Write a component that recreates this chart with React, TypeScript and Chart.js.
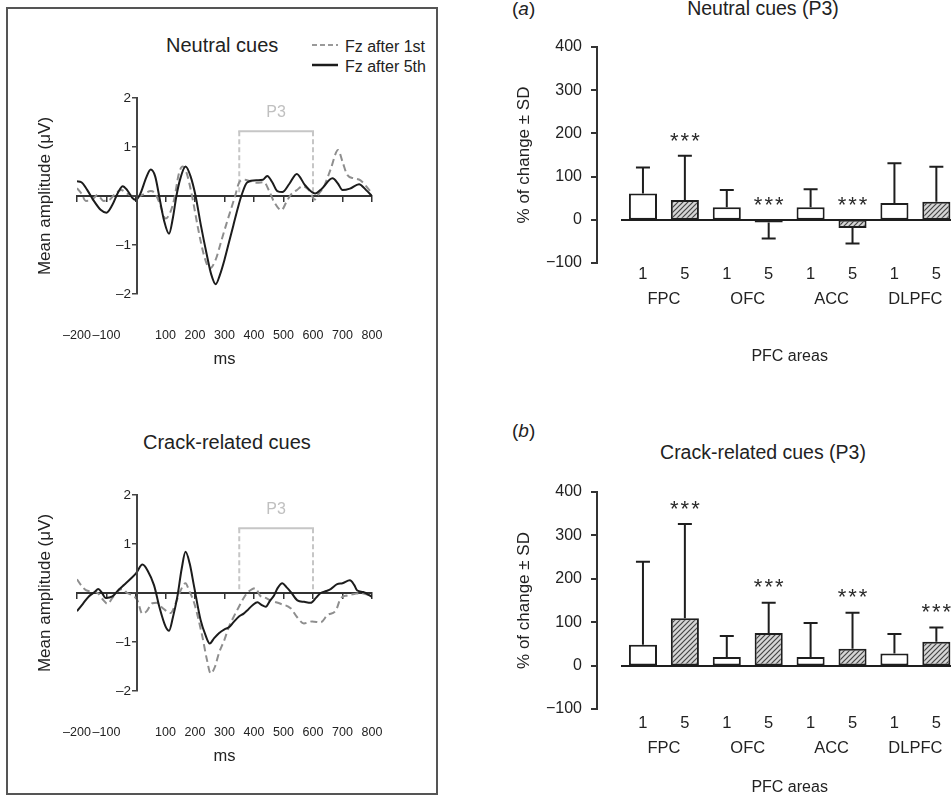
import React, { useEffect, useRef } from 'react';
import { Chart, registerables } from 'chart.js';

Chart.register(...registerables);

const FONT = '"Liberation Sans", Arial, Helvetica, sans-serif';
const INK = '#222222';

// ---------- ERP waveforms: Neutral cues ----------
const neutralTime1 = [-200, -185, -170, -150, -130, -110, -90, -70, -50, -30, -10, 10, 30, 50, 65, 80, 100, 115, 130, 145, 158, 170, 190, 210, 230, 250, 270, 290, 310, 336, 350, 366, 389, 410, 434, 450, 468, 493, 510, 524, 545, 564, 586, 606, 620, 637, 660, 685, 700, 716, 739, 761, 780, 800];
const neutralAmp1 = [0.16, 0.05, -0.1, -0.08, 0.02, -0.1, -0.08, 0.05, 0.12, 0.05, 0.0, 0.0, 0.05, 0.1, 0.05, -0.15, -0.46, -0.35, -0.05, 0.45, 0.6, 0.5, 0.0, -0.65, -1.2, -1.48, -1.3, -0.9, -0.5, 0.0, 0.28, 0.33, 0.3, 0.27, 0.28, 0.12, -0.12, -0.29, -0.12, 0.02, 0.12, 0.2, 0.12, -0.07, 0.05, 0.19, 0.55, 0.94, 0.7, 0.43, 0.36, 0.32, 0.2, 0.05];
const neutralTime5 = [-200, -185, -165, -145, -120, -100, -80, -60, -45, -30, -12, 0, 15, 35, 50, 65, 80, 95, 112, 125, 137, 150, 168, 185, 202, 220, 240, 255, 270, 285, 300, 315, 330, 345, 357, 377, 411, 430, 445, 462, 479, 496, 520, 545, 573, 607, 630, 666, 685, 700, 725, 756, 780, 800];
const neutralAmp5 = [0.3, 0.28, 0.12, -0.08, -0.28, -0.34, -0.18, 0.08, 0.2, 0.12, -0.04, -0.08, 0.05, 0.38, 0.54, 0.4, -0.05, -0.5, -0.77, -0.45, 0.0, 0.35, 0.6, 0.4, 0.0, -0.6, -1.2, -1.6, -1.8, -1.6, -1.3, -0.95, -0.6, -0.25, 0.0, 0.28, 0.32, 0.33, 0.41, 0.28, 0.1, 0.08, 0.25, 0.45, 0.22, 0.05, 0.15, 0.36, 0.25, 0.12, 0.15, 0.24, 0.12, 0.0];

// ---------- ERP waveforms: Crack-related cues ----------
const crackTime1 = [-200, -185, -170, -150, -130, -110, -97, -80, -65, -46, -30, -12, 5, 21, 35, 55, 70, 89, 117, 135, 155, 168, 180, 197, 225, 240, 253, 268, 281, 300, 315, 330, 349, 365, 377, 394, 405, 420, 440, 456, 490, 524, 547, 569, 597, 626, 649, 677, 694, 716, 740, 761, 795];
const crackAmp1 = [0.28, 0.15, 0.06, 0.03, 0.0, -0.15, -0.22, -0.1, 0.02, 0.08, 0.0, -0.05, -0.15, -0.42, -0.38, -0.21, -0.2, -0.3, -0.41, -0.2, 0.1, 0.2, 0.05, -0.2, -0.89, -1.35, -1.64, -1.5, -1.23, -0.95, -0.69, -0.5, -0.28, -0.1, 0.0, 0.08, 0.1, -0.05, -0.1, -0.15, -0.22, -0.31, -0.5, -0.62, -0.58, -0.6, -0.45, -0.36, -0.11, -0.05, -0.02, 0.0, -0.05];
const crackTime5 = [-200, -180, -160, -140, -128, -115, -103, -80, -58, -40, -20, 0, 22, 40, 61, 80, 100, 112, 125, 140, 155, 168, 182, 197, 219, 235, 250, 265, 281, 300, 315, 330, 349, 365, 378, 395, 412, 425, 440, 455, 468, 480, 496, 510, 525, 547, 570, 592, 610, 626, 645, 660, 682, 700, 725, 740, 750, 770, 800];
const crackAmp5 = [-0.37, -0.22, -0.07, 0.02, 0.08, 0.0, -0.1, -0.07, 0.07, 0.17, 0.28, 0.4, 0.58, 0.45, 0.16, -0.3, -0.68, -0.77, -0.5, -0.08, 0.5, 0.84, 0.6, 0.13, -0.55, -0.85, -1.03, -0.92, -0.82, -0.74, -0.7, -0.6, -0.48, -0.42, -0.35, -0.25, -0.19, -0.24, -0.28, -0.15, -0.05, 0.1, 0.2, 0.12, 0.02, -0.15, -0.18, -0.2, -0.1, 0.0, 0.04, 0.08, 0.18, 0.2, 0.26, 0.16, 0.05, 0.02, -0.08];

const erpTimeRange = [-200, 800];
const erpAmpRange = [-2, 2];
const p3Window = [350, 600];
const p3BracketLevel = 1.32;
const p3LabelLevel = 1.7;

// ---------- PFC bar charts ----------
const sessions = ['1', '5', '1', '5', '1', '5', '1', '5'];
const areas = ['FPC', 'OFC', 'ACC', 'DLPFC'];
const neutralMeans = [61, 46, 29, -6, 29, -19, 39, 42];
const neutralSD = [60, 102, 40, 37, 42, 36, 92, 81];
const neutralSig = [false, true, false, true, false, true, false, false];
const crackMeans = [48, 109, 20, 75, 20, 39, 28, 55];
const crackSD = [191, 217, 48, 70, 78, 83, 45, 33];
const crackSig = [false, true, false, true, false, true, false, true];
const pctRange = [-100, 400];

const fmt = (v: number) => (v < 0 ? '\u2212' + Math.abs(v) : String(v));
const fmtDash = (v: number) => (v < 0 ? '\u2013' + Math.abs(v) : String(v));

const BASE_OPTS = {
  animation: false,
  responsive: false,
  devicePixelRatio: 1,
  events: [],
};
const NO_PLUGINS = { legend: { display: false }, tooltip: { enabled: false }, title: { display: false } };

// A stand-alone vertical axis (used where the value axis sits away from the plot's left edge)
type AxisProps = {
  left: number; top: number; width: number; height: number;
  padTop: number; padBottom: number; axisWidth: number;
  min: number; max: number; step: number; dash: boolean;
  fontSize: number; tickLength: number; tickPad: number; hideZero: boolean; color: string; lineWidth: number;
};
function AxisOverlay(p: AxisProps) {
  const ref = useRef<HTMLCanvasElement | null>(null);
  useEffect(() => {
    const canvas = ref.current;
    if (!canvas) return;
    const f = p.dash ? fmtDash : fmt;
    const chart = new Chart(canvas, {
      type: 'line',
      data: { datasets: [] },
      options: {
        ...BASE_OPTS,
        layout: { padding: { left: 0, right: 0, top: p.padTop, bottom: p.padBottom } },
        plugins: NO_PLUGINS,
        scales: {
          x: { type: 'linear', display: false },
          y: {
            type: 'linear',
            position: 'left',
            min: p.min,
            max: p.max,
            ticks: {
              stepSize: p.step,
              padding: p.tickPad,
              color: INK,
              font: { family: FONT, size: p.fontSize },
              callback: (v: any) => (p.hideZero && Number(v) === 0 ? '' : f(Number(v))),
            },
            grid: { drawOnChartArea: false, drawTicks: true, tickLength: p.tickLength, color: p.color, lineWidth: p.lineWidth },
            border: { display: true, color: p.color, width: 2 },
            afterFit: (s: any) => {
              s.width = p.axisWidth;
            },
          },
        },
      } as any,
    });
    return () => chart.destroy();
  }, []);
  return <canvas ref={ref} width={p.width} height={p.height} style={{ position: 'absolute', left: p.left, top: p.top, width: p.width, height: p.height }} />;
}

type ErpProps = { top: number; t1: number[]; v1: number[]; t5: number[]; v5: number[] };

function ErpChart({ top, t1, v1, t5, v5 }: ErpProps) {
  const ref = useRef<HTMLCanvasElement | null>(null);
  useEffect(() => {
    const canvas = ref.current;
    if (!canvas) return;
    const p3Plugin = {
      id: 'p3',
      beforeDatasetsDraw(chart: any) {
        const { ctx } = chart;
        const x = chart.scales.x;
        const y = chart.scales.y;
        const x0 = x.getPixelForValue(p3Window[0]);
        const x1 = x.getPixelForValue(p3Window[1]);
        const yTop = y.getPixelForValue(p3BracketLevel);
        const yBot = y.getPixelForValue(0.05);
        ctx.save();
        ctx.strokeStyle = '#c6c6c6';
        ctx.lineWidth = 2;
        ctx.setLineDash([5, 3]);
        ctx.beginPath();
        ctx.moveTo(x0, yTop);
        ctx.lineTo(x0, yBot);
        ctx.moveTo(x1, yTop);
        ctx.lineTo(x1, yBot);
        ctx.stroke();
        ctx.setLineDash([]);
        ctx.beginPath();
        ctx.moveTo(x0 - 1, yTop);
        ctx.lineTo(x1 + 1, yTop);
        ctx.stroke();
        ctx.fillStyle = '#c0c0c0';
        ctx.font = `16px ${FONT}`;
        ctx.textAlign = 'center';
        ctx.textBaseline = 'middle';
        ctx.fillText('P3', (x0 + x1) / 2, y.getPixelForValue(p3LabelLevel));
        ctx.restore();
      },
    };
    const chart = new Chart(canvas, {
      type: 'line',
      data: {
        datasets: [
          {
            label: 'Fz after 5th',
            data: t5.map((t, i) => ({ x: t, y: v5[i] })),
            borderColor: '#1c1c1c',
            borderWidth: 2,
            pointRadius: 0,
            cubicInterpolationMode: 'monotone',
            xAxisID: 'x',
            yAxisID: 'y',
          },
          {
            label: 'Fz after 1st',
            data: t1.map((t, i) => ({ x: t, y: v1[i] })),
            borderColor: '#8e8e8e',
            borderWidth: 2,
            borderDash: [7, 4],
            pointRadius: 0,
            cubicInterpolationMode: 'monotone',
            xAxisID: 'x',
            yAxisID: 'y',
          },
        ],
      },
      options: {
        ...BASE_OPTS,
        layout: { padding: { left: 0, right: 18, top: 18, bottom: 0 } },
        plugins: NO_PLUGINS,
        scales: {
          x: {
            type: 'linear',
            axis: 'x',
            position: { y: 0 },
            min: erpTimeRange[0],
            max: erpTimeRange[1],
            ticks: { display: false, stepSize: 100 },
            grid: { drawOnChartArea: false, drawTicks: true, tickLength: 5, color: '#333', lineWidth: 1.5 },
            border: { display: true, color: '#333', width: 2 },
          },
          y: {
            type: 'linear',
            axis: 'y',
            position: 'left',
            display: false,
            min: erpAmpRange[0],
            max: erpAmpRange[1],
          },
          xl: {
            type: 'linear',
            axis: 'x',
            position: 'bottom',
            min: erpTimeRange[0],
            max: erpTimeRange[1],
            ticks: {
              stepSize: 100,
              autoSkip: false,
              maxRotation: 0,
              padding: 0,
              color: INK,
              font: { family: FONT, size: 12.5 },
              callback: (v: any) => (Number(v) === 0 ? '' : fmtDash(Number(v))),
            },
            grid: { display: true, drawOnChartArea: false, drawTicks: true, tickLength: 34, color: 'rgba(0,0,0,0)' },
            border: { display: false },
            title: { display: true, text: 'ms', color: INK, font: { family: FONT, size: 16.5 }, padding: { top: 0, bottom: 11 } },
            afterFit: (s: any) => {
              s.height = 86;
            },
          },
          yt: {
            type: 'linear',
            axis: 'y',
            position: 'left',
            ticks: { display: false },
            grid: { display: false, drawTicks: false },
            border: { display: false },
            title: { display: true, text: 'Mean amplitude (\u03bcV)', color: INK, font: { family: FONT, size: 17 }, padding: { top: 25, bottom: 0 } },
            afterFit: (s: any) => {
              s.width = 67;
            },
          },
        },
      } as any,
      plugins: [p3Plugin],
    });
    return () => chart.destroy();
  }, []);
  return (
    <>
      <canvas ref={ref} width={380} height={300} style={{ position: 'absolute', left: 10, top, width: 380, height: 300 }} />
      <AxisOverlay
        left={60} top={top} width={90} height={300}
        padTop={18} padBottom={86} axisWidth={77}
        min={erpAmpRange[0]} max={erpAmpRange[1]} step={1} dash
        fontSize={13.5} tickLength={5} tickPad={1} hideZero color="#444" lineWidth={1.5}
      />
    </>
  );
}

type BarProps = {
  top: number;
  means: number[];
  sds: number[];
  sig: boolean[];
  padTop: number;
  xH: number;
  xPad: number;
  xgH: number;
  xgPad: number;
  titlePad: number;
};

function BarChart({ top, means, sds, sig, padTop, xH, xPad, xgH, xgPad, titlePad }: BarProps) {
  const ref = useRef<HTMLCanvasElement | null>(null);
  useEffect(() => {
    const canvas = ref.current;
    if (!canvas) return;
    const ctx0 = canvas.getContext('2d')!;
    const tile = document.createElement('canvas');
    tile.width = 5;
    tile.height = 5;
    const g = tile.getContext('2d')!;
    g.fillStyle = '#d6d6d6';
    g.fillRect(0, 0, 5, 5);
    g.strokeStyle = '#444';
    g.lineWidth = 1.2;
    g.beginPath();
    g.moveTo(-1, 6);
    g.lineTo(6, -1);
    g.moveTo(-1, 1);
    g.lineTo(1, -1);
    g.moveTo(4, 6);
    g.lineTo(6, 4);
    g.stroke();
    const hatch = ctx0.createPattern(tile, 'repeat');

    const errPlugin = {
      id: 'errorBars',
      afterDatasetsDraw(chart: any) {
        const { ctx } = chart;
        const y = chart.scales.y;
        const meta = chart.getDatasetMeta(0);
        ctx.save();
        ctx.strokeStyle = '#1e1e1e';
        ctx.lineWidth = 2;
        meta.data.forEach((bar: any, i: number) => {
          const v = means[i];
          const dir = v >= 0 ? 1 : -1;
          const ys = y.getPixelForValue(v);
          const ye = y.getPixelForValue(v + dir * sds[i]);
          ctx.beginPath();
          ctx.moveTo(bar.x, ys);
          ctx.lineTo(bar.x, ye);
          ctx.moveTo(bar.x - 7, ye);
          ctx.lineTo(bar.x + 7, ye);
          ctx.stroke();
          if (sig[i]) {
            const topPx = Math.min(ye, ys, y.getPixelForValue(0));
            ctx.fillStyle = '#2a2a2a';
            ctx.font = `22px ${FONT}`;
            (ctx as any).letterSpacing = '2px';
            ctx.textAlign = 'center';
            ctx.textBaseline = 'alphabetic';
            ctx.fillText('***', bar.x + 1, topPx - 21 + 12.8);
            (ctx as any).letterSpacing = '0px';
          }
        });
        ctx.restore();
      },
    };

    const chart = new Chart(canvas, {
      type: 'bar',
      data: {
        labels: sessions,
        datasets: [
          {
            data: means,
            backgroundColor: sessions.map((s) => (s === '5' ? hatch : '#ffffff')),
            borderColor: '#1e1e1e',
            borderWidth: 2,
            borderSkipped: false,
            barPercentage: 0.67,
            categoryPercentage: 1,
            xAxisID: 'x',
            yAxisID: 'y',
          },
        ],
      },
      options: {
        ...BASE_OPTS,
        layout: { padding: { left: 0, right: 2.7, top: padTop, bottom: 0 } },
        plugins: NO_PLUGINS,
        scales: {
          x: {
            type: 'category',
            position: 'bottom',
            weight: 0,
            offset: true,
            ticks: { autoSkip: false, maxRotation: 0, padding: xPad, color: INK, font: { family: FONT, size: 16.5 } },
            grid: { display: false, drawTicks: false },
            border: { display: false },
            afterFit: (s: any) => {
              s.height = xH;
            },
          },
          xg: {
            type: 'category',
            axis: 'x',
            labels: areas,
            position: 'bottom',
            weight: 1,
            offset: true,
            ticks: { autoSkip: false, maxRotation: 0, padding: xgPad, color: INK, font: { family: FONT, size: 16.5 } },
            grid: { display: false, drawTicks: false },
            border: { display: false },
            title: { display: true, text: 'PFC areas', color: INK, font: { family: FONT, size: 16 }, padding: { top: 0, bottom: titlePad } },
            afterFit: (s: any) => {
              s.height = xgH;
            },
          },
          xz: {
            type: 'category',
            axis: 'x',
            position: { y: 0 },
            offset: true,
            ticks: { display: false },
            grid: { display: false, drawTicks: false },
            border: { display: true, color: '#1e1e1e', width: 2 },
          },
          y: {
            type: 'linear',
            axis: 'y',
            position: 'left',
            display: false,
            min: pctRange[0],
            max: pctRange[1],
          },
          yt: {
            type: 'linear',
            axis: 'y',
            position: 'left',
            ticks: { display: false },
            grid: { display: false, drawTicks: false },
            border: { display: false },
            title: { display: true, text: '% of change \u00b1 SD', color: INK, font: { family: FONT, size: 17 }, padding: { top: 44, bottom: 0 } },
            afterFit: (s: any) => {
              s.width = 152;
            },
          },
        },
      } as any,
      plugins: [errPlugin],
    });
    return () => chart.destroy();
  }, []);
  const chartBottom = 380 - xH - xgH;
  return (
    <>
      <canvas ref={ref} width={490} height={380} style={{ position: 'absolute', left: 470, top, width: 490, height: 380 }} />
      <AxisOverlay
        left={530} top={top} width={80} height={380}
        padTop={padTop} padBottom={380 - chartBottom} axisWidth={67}
        min={pctRange[0]} max={pctRange[1]} step={100} dash={false}
        fontSize={16} tickLength={6} tickPad={9} hideZero={false} color="#333" lineWidth={2}
      />
    </>
  );
}

function Txt({ x, base, size, children, center, color }: { x: number; base: number; size: number; children: any; center?: boolean; color?: string }) {
  const top = base - 0.8465 * size;
  const style: any = {
    position: 'absolute',
    top,
    fontSize: size,
    lineHeight: `${size}px`,
    whiteSpace: 'nowrap',
    color: color || INK,
    fontFamily: FONT,
  };
  if (center) {
    style.left = x - 200;
    style.width = 400;
    style.textAlign = 'center';
  } else {
    style.left = x;
  }
  return <div style={style}>{children}</div>;
}

export default function App() {
  return (
    <div style={{ position: 'absolute', left: 0, top: 0, width: 951, height: 797, overflow: 'hidden', background: '#ffffff', fontFamily: FONT }}>
      <div style={{ position: 'absolute', left: 6, top: 7, width: 428, height: 784, border: '2px solid #555' }} />

      <Txt x={166} base={51.5} size={20}>Neutral cues</Txt>
      <svg style={{ position: 'absolute', left: 310, top: 38, width: 32, height: 34 }} width={32} height={34}>
        <line x1={2} y1={7} x2={28} y2={7} stroke="#9a9a9a" strokeWidth={2} strokeDasharray="5 3" />
        <line x1={2} y1={27} x2={28} y2={27} stroke="#1c1c1c" strokeWidth={2.5} />
      </svg>
      <Txt x={345} base={52.5} size={16}>Fz after 1st</Txt>
      <Txt x={345} base={73} size={16}>Fz after 5th</Txt>
      <ErpChart top={80} t1={neutralTime1} v1={neutralAmp1} t5={neutralTime5} v5={neutralAmp5} />

      <Txt x={143} base={448.5} size={20}>Crack-related cues</Txt>
      <ErpChart top={477} t1={crackTime1} v1={crackAmp1} t5={crackTime5} v5={crackAmp5} />

      <Txt x={512} base={15} size={19}>(<i>a</i>)</Txt>
      <Txt x={763} base={15} size={19.5} center>Neutral cues (P3)</Txt>
      <BarChart top={0} means={neutralMeans} sds={neutralSD} sig={neutralSig} padTop={47} xH={22} xPad={1.4} xgH={95} xgPad={4.4} titlePad={13.4} />

      <Txt x={512} base={437} size={19}>(<i>b</i>)</Txt>
      <Txt x={763} base={460} size={19.5} center>Crack-related cues (P3)</Txt>
      <BarChart top={440} means={crackMeans} sds={crackSD} sig={crackSig} padTop={52} xH={24} xPad={4.4} xgH={87} xgPad={5.4} titlePad={22.4} />
    </div>
  );
}
